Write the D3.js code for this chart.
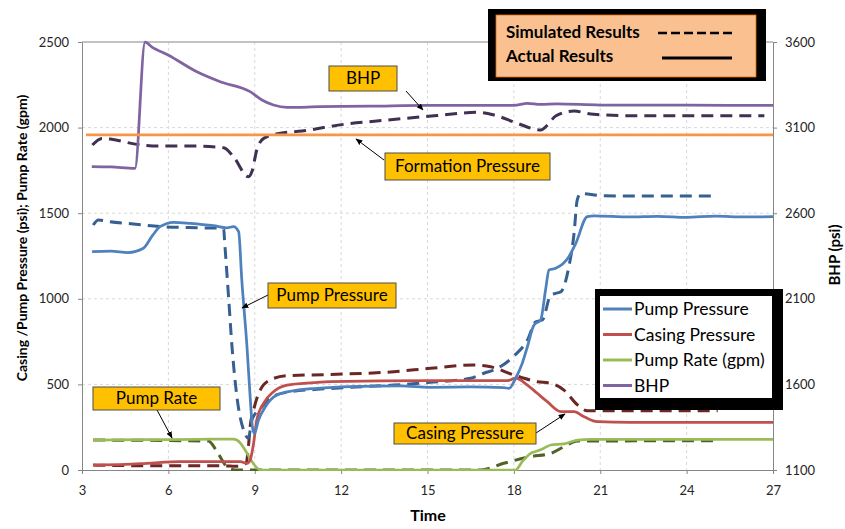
<!DOCTYPE html>
<html><head><meta charset="utf-8">
<script src="https://cdn.jsdelivr.net/npm/d3@7"></script>
<style>
html,body{margin:0;padding:0;background:#fff;}
svg{display:block;font-family:Lato,"Open Sans",sans-serif;}
</style></head><body>
<svg id="chart" width="845" height="529"></svg>
<script>
// ---- data: [time, value] ----
const pumpPressureActual = [
  [3.35,1275],[4.0,1278],[4.6,1270],[5.13,1295],[5.45,1370],[5.71,1421],[6.18,1447],[6.76,1441],
  [7.57,1427],[8.03,1415],[8.26,1421],[8.44,1392],[8.55,1110],[8.73,720],[8.84,428],[8.92,250],
  [8.99,214],[9.13,292],[9.37,370],[9.77,438],[10.35,463],[11.16,477],[12.32,487],[14.06,491],
  [15.1,483],[16.5,485],[17.65,481],[17.83,477],[18.06,536],[18.29,623],[18.47,720],[18.7,847],
  [18.93,876],[19.1,1051],[19.22,1168],[19.45,1178],[19.91,1246],[20.15,1324],[20.55,1480],
  [20.79,1484],[22,1478],[23,1482],[24,1476],[25,1483],[26,1478],[27,1480]
];
const pumpPressureSim = [
  [3.39,1431],[3.57,1460],[3.97,1450],[4.78,1437],[5.83,1421],[6.99,1415],[7.92,1412],[7.95,1343],
  [8.09,1012],[8.21,720],[8.38,428],[8.61,234],[8.78,185],[8.9,292],[9.25,370],[9.6,428],
  [10.23,457],[11.16,471],[12.32,483],[13.83,496],[15.1,512],[16.5,536],[16.96,565],[17.43,594],
  [18.0,665],[18.47,759],[18.76,866],[18.99,876],[19.28,1022],[19.45,1032],[19.63,1041],
  [19.91,1187],[20.09,1382],[20.2,1577],[20.32,1615],[21,1603],[22,1600],[25.02,1600]
];
const casingActual = [
  [3.39,29],[4.5,33],[5.25,39],[6.41,49],[7.57,49],[8.5,49],[8.73,39],[8.84,58],[8.96,156],
  [9.07,292],[9.31,390],[9.65,457],[10.12,496],[11.05,510],[11.63,516],[15.1,522],[17.77,522],
  [18.06,536],[18.47,496],[18.81,448],[19.16,399],[19.63,341],[20.09,341],[20.44,311],[20.9,282],
  [22.06,278],[27,278]
];
const casingSim = [
  [3.39,29],[5,25],[7,25],[8.15,23],[8.4,22],[8.6,30],[8.7,40],[8.78,136],[8.84,253],[8.96,350],
  [9.19,467],[9.54,526],[10.12,551],[11.63,558],[13.83,574],[15.1,594],[16.61,613],[17.19,603],
  [18.0,555],[18.81,516],[19.28,506],[19.74,467],[20.21,380],[20.55,346],[25.08,346]
];
const pumpRateActual = [
  [3.39,175],[5,177],[7,179],[8.26,181],[8.38,175],[9.13,5],[9.2,0],[18.06,0],[18.29,49],
  [18.58,97],[18.81,111],[19.04,127],[19.28,146],[19.74,152],[20.21,175],[20.67,179],[27,179]
];
const pumpRateSim = [
  [3.39,175],[7.39,169],[7.69,107],[8.03,19],[8.32,0],[16.84,0],[17.65,39],[18.58,78],
  [19.28,97],[19.74,136],[20.21,169],[24.96,171]
];
const bhpActual = [
  [3.34,2872],[4.0,2870],[4.84,2862],[5.19,3600],[5.42,3572],[5.99,3524],[6.99,3426],[7.8,3368],
  [8.84,3310],[9.25,3261],[9.65,3232],[10.12,3218],[11.28,3222],[13,3225],[15,3230],[18,3230],
  [18.47,3242],[18.93,3236],[19.5,3238],[21,3232],[24,3231],[27,3230]
];
const bhpSim = [
  [3.36,2998],[3.69,3037],[4.03,3032],[4.9,3002],[5.83,2992],[6.99,2992],[7.92,2982],[8.26,2930],
  [8.78,2813],[8.9,2842],[9.07,2969],[9.31,3037],[9.89,3067],[10.64,3080],[12.09,3119],
  [13.6,3144],[15.22,3169],[16.73,3189],[17.31,3174],[18.12,3125],[18.93,3086],[19.22,3125],
  [19.45,3168],[20.09,3197],[20.67,3179],[22.17,3169],[26.7,3169]
];
const formationPressure = [[3.14,3057],[27,3057]];

const timeTicks = [3,6,9,12,15,18,21,24,27];
const leftTicks = [0,500,1000,1500,2000,2500];
const rightTicks = [1100,1600,2100,2600,3100,3600];
const legendNames = ["Pump Pressure","Casing Pressure","Pump Rate (gpm)","BHP"];
const legendColors = ["#4F81BD","#C0504D","#9BBB59","#8064A2"];

// ---- scales ----
const svg = d3.select("#chart");
const x = d3.scaleLinear().domain([3,27]).range([82,773]);
const yL = d3.scaleLinear().domain([0,2500]).range([470,42]);
const yR = d3.scaleLinear().domain([1100,3600]).range([470,42]);
const fmt = d3.format("d");

svg.append("defs").append("clipPath").attr("id","plotClip")
  .append("rect").attr("x",82).attr("y",40).attr("width",691).attr("height",431);
const mk = svg.select("defs").append("marker").attr("id","arrow")
  .attr("viewBox","0 0 10 10").attr("refX",9).attr("refY",5)
  .attr("markerWidth",7).attr("markerHeight",7).attr("orient","auto-start-reverse")
  .attr("markerUnits","userSpaceOnUse");
mk.append("path").attr("d","M0,1 L10,5 L0,9 Z").attr("fill","#000");

// ---- grid ----
const grid = svg.append("g");
grid.selectAll(".hg").data(leftTicks.slice(1,-1)).join("line")
  .attr("x1",82).attr("x2",773).attr("y1",d=>yL(d)).attr("y2",d=>yL(d))
  .attr("stroke","#D9D9D9").attr("stroke-dasharray","3,3");
grid.selectAll(".vg").data(timeTicks.slice(1,-1)).join("line")
  .attr("y1",42).attr("y2",470).attr("x1",d=>x(d)).attr("x2",d=>x(d))
  .attr("stroke","#D9D9D9").attr("stroke-dasharray","3,3");

// ---- axes ----
function styleAxis(g){
  g.selectAll("path.domain").attr("stroke","#868686");
  g.selectAll(".tick line").attr("stroke","#868686");
  g.selectAll(".tick text").attr("fill","#262626").style("font-size","13px")
    .style("font-family","Lato, sans-serif");
}
svg.append("g").attr("transform","translate(82,0)")
  .call(d3.axisLeft(yL).tickValues(leftTicks).tickFormat(fmt).tickSize(4).tickSizeOuter(0).tickPadding(9))
  .call(styleAxis);
svg.append("g").attr("transform","translate(773,0)")
  .call(d3.axisRight(yR).tickValues(rightTicks).tickFormat(fmt).tickSize(4).tickSizeOuter(0).tickPadding(8))
  .call(styleAxis);
svg.append("g").attr("transform","translate(0,470)")
  .call(d3.axisBottom(x).tickValues(timeTicks).tickFormat(fmt).tickSize(4).tickSizeOuter(0).tickPadding(12))
  .call(styleAxis);
svg.append("line").attr("x1",82).attr("x2",773).attr("y1",42).attr("y2",42).attr("stroke","#868686");

// ---- series ----
const lineL = d3.line().x(d=>x(d[0])).y(d=>yL(d[1])).curve(d3.curveMonotoneX);
const lineR = d3.line().x(d=>x(d[0])).y(d=>yR(d[1])).curve(d3.curveMonotoneX);
const plot = svg.append("g").attr("clip-path","url(#plotClip)");
const series = [
  {d:pumpRateSim, gen:lineL, c:"#4F6228", dash:true},
  {d:casingSim, gen:lineL, c:"#6B2626", dash:true},
  {d:pumpPressureSim, gen:lineL, c:"#366092", dash:true},
  {d:bhpSim, gen:lineR, c:"#403152", dash:true},
  {d:pumpRateActual, gen:lineL, c:"#9BBB59"},
  {d:casingActual, gen:lineL, c:"#C0504D"},
  {d:pumpPressureActual, gen:lineL, c:"#4F81BD"},
  {d:bhpActual, gen:lineR, c:"#8064A2"},
  {d:formationPressure, gen:lineR, c:"#F79646"}
];
series.forEach(s=>{
  plot.append("path").attr("d",s.gen(s.d)).attr("fill","none")
    .attr("stroke",s.c).attr("stroke-width",s.dash?3:2.75)
    .attr("stroke-dasharray",s.dash?"12,7":null)
    .attr("stroke-linejoin","round");
});

// ---- callouts ----
const callouts = [
  {text:"BHP", x:329, y:66, w:68, h:25, from:[406,91], to:[423,110]},
  {text:"Formation Pressure", x:385, y:153, w:165, h:27, from:[384,160], to:[356,139]},
  {text:"Pump Pressure", x:268, y:283, w:128, h:25, from:[268,295], to:[242,308]},
  {text:"Pump Rate", x:93, y:387, w:127, h:23, from:[157,410], to:[172,438]},
  {text:"Casing Pressure", x:394, y:423, w:142, h:21, from:[536,433], to:[565,414]}
];
callouts.forEach(c=>{
  svg.append("line").attr("x1",c.from[0]).attr("y1",c.from[1]).attr("x2",c.to[0]).attr("y2",c.to[1])
    .attr("stroke","#000").attr("stroke-width",1).attr("marker-end","url(#arrow)");
  svg.append("rect").attr("x",c.x).attr("y",c.y).attr("width",c.w).attr("height",c.h)
    .attr("fill","#FFC000").attr("stroke","#4D4D4D").attr("stroke-width",1);
  svg.append("text").attr("x",c.x+c.w/2).attr("y",c.y+c.h/2).attr("dy","0.35em")
    .attr("text-anchor","middle").style("font-size","17px").attr("fill","#000").text(c.text);
});

// ---- legend: simulated vs actual ----
const lg1 = svg.append("g");
lg1.append("rect").attr("x",488).attr("y",9).attr("width",278).attr("height",72).attr("fill","#000");
lg1.append("rect").attr("x",496).attr("y",15).attr("width",260).attr("height",62)
  .attr("fill","#FAC090").attr("stroke","#E46C0A").attr("stroke-width",0.8);
lg1.append("text").attr("x",506).attr("y",38).style("font-size","17px").style("font-weight","bold").text("Simulated Results");
lg1.append("text").attr("x",506).attr("y",62).style("font-size","17px").style("font-weight","bold").text("Actual Results");
lg1.append("line").attr("x1",658).attr("x2",734).attr("y1",33).attr("y2",33)
  .attr("stroke","#000").attr("stroke-width",2.5).attr("stroke-dasharray","9,4");
lg1.append("line").attr("x1",662).attr("x2",732).attr("y1",58).attr("y2",58)
  .attr("stroke","#000").attr("stroke-width",3);

// ---- legend: series ----
const lg2 = svg.append("g");
lg2.append("rect").attr("x",595).attr("y",289).attr("width",188).attr("height",121).attr("fill","#000");
lg2.append("rect").attr("x",600).attr("y",296).attr("width",172).attr("height",102).attr("fill","#fff");
legendNames.forEach((n,i)=>{
  const cy = 309 + i*25.5;
  lg2.append("line").attr("x1",603).attr("x2",632).attr("y1",cy).attr("y2",cy)
    .attr("stroke",legendColors[i]).attr("stroke-width",3);
  lg2.append("text").attr("x",634).attr("y",cy).attr("dy","0.35em").style("font-size","17.5px").text(n);
});

// ---- axis titles ----
svg.append("text").attr("transform","translate(27,238) rotate(-90)").attr("text-anchor","middle")
  .style("font-size","14px").style("font-weight","bold").text("Casing /Pump Pressure (psi);  Pump Rate (gpm)");
svg.append("text").attr("transform","translate(840,255) rotate(-90)").attr("text-anchor","middle")
  .style("font-size","15px").style("font-weight","bold").text("BHP (psi)");
svg.append("text").attr("x",428).attr("y",515).attr("dy","0.35em").attr("text-anchor","middle")
  .style("font-size","16px").style("font-weight","bold").text("Time");
</script>
</body></html>
